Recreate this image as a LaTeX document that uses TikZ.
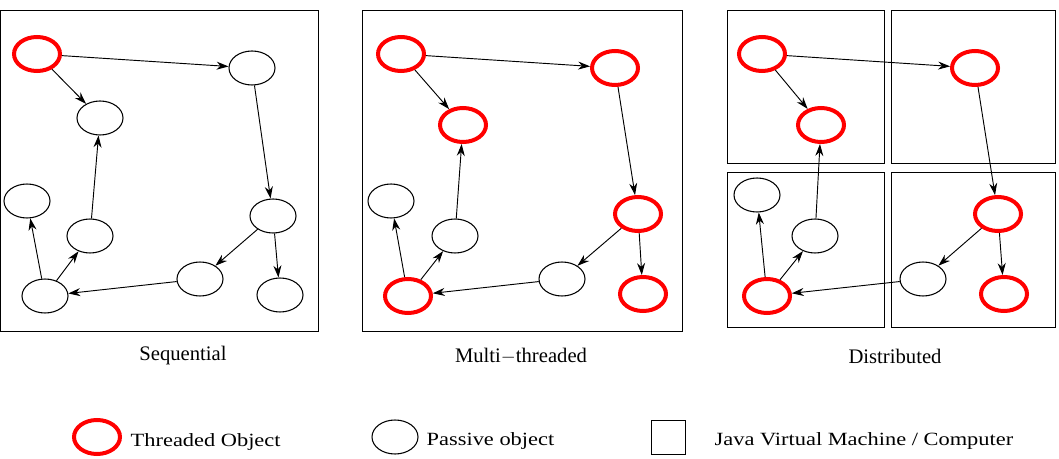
\documentclass[tikz,border=0pt]{standalone}
\usepackage{fontspec}
\setmainfont{Liberation Serif}
\usetikzlibrary{shapes.geometric,arrows.meta}
\newcommand{\wide}[1]{\scalebox{1.2}[1]{#1}}
\begin{document}
\begin{tikzpicture}[x=0.75pt,y=-0.75pt,
 pas/.style={ellipse,draw,line width=0.8pt,minimum width=34.5pt,minimum height=25.5pt,inner sep=0pt},
 thr/.style={pas,draw=red,line width=3pt},
 box/.style={draw,line width=0.7pt},
 ar/.style={-{Stealth[length=9pt,width=6pt]},line width=0.7pt},
 lab/.style={font=\fontsize{15.5}{17}\selectfont},
 leg/.style={font=\fontsize{14}{15}\selectfont,anchor=west}]
\useasboundingbox (0,0) rectangle (1059,459);
% panel 1
\draw[box] (0,10) rectangle (318,331);
\node[thr] (a1) at (37,54) {};
\node[pas] (b1) at (252,68) {};
\node[pas] (c1) at (100,118) {};
\node[pas] (d1) at (27,201) {};
\node[pas] (e1) at (90,236) {};
\node[pas] (f1) at (273,216) {};
\node[pas] (g1) at (200,279) {};
\node[pas] (h1) at (280,295) {};
\node[pas] (i1) at (45,296) {};
% panel 2
\draw[box] (362,10) rectangle (682,331);
\node[thr] (a2) at (401,54) {};
\node[thr] (b2) at (615,68) {};
\node[thr] (c2) at (463,125) {};
\node[pas] (d2) at (391,201) {};
\node[pas] (e2) at (455,236) {};
\node[thr] (f2) at (638,214) {};
\node[pas] (g2) at (562,279) {};
\node[thr] (h2) at (643,294) {};
\node[thr] (i2) at (408,296) {};
% panel 3
\draw[box] (727,10) rectangle (884,163);
\draw[box] (891,10) rectangle (1055,163);
\draw[box] (727,172) rectangle (884,327);
\draw[box] (891,172) rectangle (1055,327);
\node[thr] (a3) at (762,54) {};
\node[thr] (b3) at (975,68) {};
\node[thr] (c3) at (821,125) {};
\node[pas] (d3) at (757,195) {};
\node[pas] (e3) at (815,236) {};
\node[thr] (f3) at (998,214) {};
\node[pas] (g3) at (923,279) {};
\node[thr] (h3) at (1004,294) {};
\node[thr] (i3) at (767,296) {};
\foreach \p in {1,2,3}{
 \draw[ar] (a\p) -- (c\p);
 \draw[ar] (a\p) -- (b\p);
 \draw[ar] (b\p) -- (f\p);
 \draw[ar] (f\p) -- (g\p);
 \draw[ar] (f\p) -- (h\p);
 \draw[ar] (g\p) -- (i\p);
 \draw[ar] (i\p) -- (e\p);
 \draw[ar] (i\p) -- (d\p);
 \draw[ar] (e\p) -- (c\p);
}
\node[lab] (l1) at (183,356) {Sequential};
\node[lab] (l2) at (521,356) {Multi$-$threaded};
\node[lab] (l3) at (895,356) {Distributed};
% legend
\node[thr] (t) at (97,437) {};
\node[leg] (tl) at (126,442) {\wide{Threaded Object}};
\node[pas] (p) at (395,437) {};
\node[leg] (pl) at (422,441) {\wide{Passive object}};
\node[box,minimum size=25.5pt,inner sep=0pt] (s) at (668,437) {};
\node[leg] (sl) at (710,441) {\wide{Java Virtual Machine / Computer}};
\end{tikzpicture}
\end{document}
